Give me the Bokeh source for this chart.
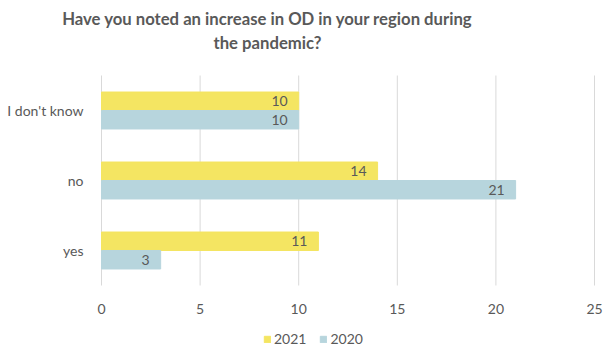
from bokeh.plotting import figure
from bokeh.models import ColumnDataSource, LabelSet, Label, Legend, LegendItem, Range1d, FixedTicker
from bokeh.core.properties import value
from bokeh.embed import file_html
from bokeh.resources import INLINE

categories = ["yes", "no", "I don't know"]
values_2021 = [11, 14, 10]
values_2020 = [3, 21, 10]
x_ticks = [0, 5, 10, 15, 20, 25]
title_lines = ["Have you noted an increase in OD in your region during", "the pandemic?"]

FONT = "Lato"
GRAY = "#595959"
YELLOW = "#F4E562"
BLUE = "#B7D5DD"
OFF = 0.132
n = len(categories)
cat_lo, cat_hi = -0.5, n - 0.5

# layout (pixels)
W, H = 603, 348
LEFT, PLOT_L, PLOT_R = 0, 101, 594
PLOT_T, PLOT_B = 75, 285
px_x = (PLOT_R - PLOT_L) / x_ticks[-1]
px_y = (PLOT_B - PLOT_T) / n

pos = list(range(n))
src = ColumnDataSource(data=dict(
    y21=[i + OFF for i in pos],
    y20=[i - OFF for i in pos],
    v2021=values_2021,
    v2020=values_2020,
    l2021=[str(v) for v in values_2021],
    l2020=[str(v) for v in values_2020],
))
grid_src = ColumnDataSource(data=dict(x=x_ticks, y0=[cat_lo] * len(x_ticks), y1=[cat_hi] * len(x_ticks)))

p = figure(width=W, height=H, output_backend="svg", toolbar_location=None,
           y_range=Range1d(cat_lo - (H - PLOT_B) / px_y, cat_hi + PLOT_T / px_y),
           x_range=Range1d(x_ticks[0] - (PLOT_L - LEFT) / px_x, x_ticks[-1] + (W - PLOT_R) / px_x),
           min_border_left=LEFT, min_border_right=0, min_border_top=0, min_border_bottom=0)

for txt, yy in zip(title_lines, (H - 18, H - 42)):
    p.add_layout(Label(x=267 - LEFT, y=yy, x_units="screen", y_units="screen", text=txt,
                       text_align="center", text_baseline="middle", text_font=FONT,
                       text_font_size="16.7px", text_font_style="bold", text_color=GRAY))

p.segment(x0="x", y0="y0", x1="x", y1="y1", line_color="#D9D9D9", line_width=1, source=grid_src)

r1 = p.hbar(y="y21", right="v2021", left=0, height=2 * OFF, color=YELLOW, source=src)
r2 = p.hbar(y="y20", right="v2020", left=0, height=2 * OFF, color=BLUE, source=src)

for col in ("2021", "2020"):
    p.add_layout(LabelSet(x="v" + col, y="y" + col[2:], text="l" + col,
                          source=src, text_align="right", text_baseline="middle",
                          x_offset=-11, text_font=value(FONT), text_font_size=value("14px"),
                          text_color=GRAY))

p.xaxis.fixed_location = cat_lo
p.xaxis.ticker = FixedTicker(ticks=x_ticks)
p.xaxis.axis_line_color = None
p.xaxis.major_tick_line_color = None
p.xaxis.minor_tick_line_color = None
p.xaxis.major_label_text_font = FONT
p.xaxis.major_label_text_font_size = "14px"
p.xaxis.major_label_text_color = GRAY
p.xaxis.major_label_standoff = 12

p.yaxis.fixed_location = x_ticks[0]
p.yaxis.ticker = FixedTicker(ticks=pos)
p.yaxis.major_label_overrides = {i: c for i, c in zip(pos, categories)}
p.yaxis.axis_line_color = None
p.yaxis.major_tick_line_color = None
p.yaxis.minor_tick_line_color = None
p.yaxis.major_label_text_font = FONT
p.yaxis.major_label_text_font_size = "14px"
p.yaxis.major_label_text_color = GRAY
p.yaxis.major_label_standoff = 12

p.grid.grid_line_color = None
p.outline_line_color = None

legend = Legend(items=[LegendItem(label="2021", renderers=[r1]),
                       LegendItem(label="2020", renderers=[r2])],
                orientation="horizontal", location=(263 - LEFT, 1),
                label_text_font=FONT, label_text_font_size="14px", label_text_color=GRAY,
                glyph_width=8, glyph_height=8, label_height=16, spacing=13, label_standoff=3,
                border_line_color=None, background_fill_alpha=0, padding=0, margin=0)
p.add_layout(legend, "center")

open("out.html", "w").write(file_html(p, INLINE))
